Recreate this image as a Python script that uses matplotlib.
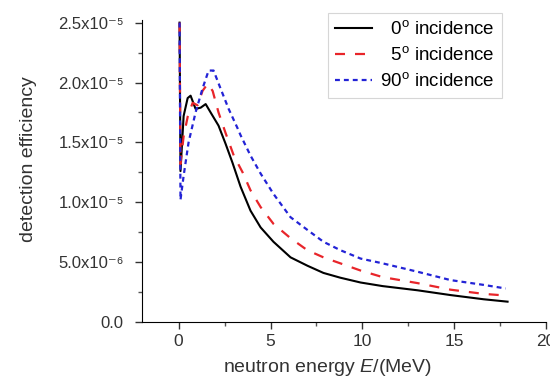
import matplotlib
matplotlib.use("Agg")
import matplotlib.pyplot as plt
import numpy as np
from matplotlib.ticker import MultipleLocator, FuncFormatter

# Data (efficiency in units of 1e-5)
e_0deg = [0.05, 0.1, 0.27, 0.49, 0.65, 0.92, 1.2, 1.47, 1.74, 2.17, 2.55, 2.93,
          3.37, 3.91, 4.46, 5.16, 6.09, 7.01, 7.88, 8.8, 9.9, 11.1, 13.0, 14.8, 16.6, 17.9]
eff_0deg = [2.5, 1.26, 1.72, 1.87, 1.89, 1.78, 1.79, 1.82, 1.75, 1.64, 1.49, 1.33,
            1.13, 0.93, 0.79, 0.67, 0.54, 0.47, 0.41, 0.37, 0.33, 0.30, 0.265, 0.225, 0.19, 0.17]

e_5deg = [0.05, 0.1, 0.27, 0.5, 0.76, 1.03, 1.3, 1.58, 1.85, 2.17, 2.55, 3.0,
          3.48, 3.91, 4.46, 5.16, 6.09, 7.0, 7.88, 8.8, 9.9, 11.1, 13.0, 14.8, 16.6, 17.9]
eff_5deg = [2.5, 1.32, 1.55, 1.72, 1.83, 1.81, 1.93, 1.99, 1.93, 1.75, 1.58, 1.39,
            1.25, 1.10, 0.96, 0.82, 0.70, 0.60, 0.54, 0.49, 0.43, 0.375, 0.325, 0.27, 0.235, 0.22]

e_90deg = [0.05, 0.1, 0.27, 0.54, 0.92, 1.3, 1.63, 1.9, 2.28, 2.72, 3.2, 3.37,
           3.91, 4.46, 5.16, 6.09, 7.0, 7.88, 8.8, 9.9, 11.1, 13.0, 14.8, 16.6, 17.8]
eff_90deg = [2.5, 1.02, 1.22, 1.5, 1.75, 1.95, 2.1, 2.1, 1.95, 1.78, 1.62, 1.56,
             1.39, 1.24, 1.07, 0.875, 0.77, 0.67, 0.60, 0.53, 0.49, 0.42, 0.35, 0.31, 0.28]

labels = ["  0$^{\\rm o}$ incidence", "  5$^{\\rm o}$ incidence", "90$^{\\rm o}$ incidence"]

plt.rcParams['font.family'] = ['Liberation Sans', 'DejaVu Sans']
plt.rcParams['mathtext.fontset'] = 'custom'
plt.rcParams['mathtext.rm'] = 'Liberation Sans'
plt.rcParams['mathtext.it'] = 'Liberation Sans:italic'

fig = plt.figure(figsize=(5.5, 3.82), dpi=100)
ax = fig.add_axes([0.258, 0.157, 0.735, 0.79])

ax.plot(e_0deg, np.array(eff_0deg) * 1e-5, color='black', lw=1.5, label=labels[0])
ax.plot(e_5deg, np.array(eff_5deg) * 1e-5, color='#e8252a', lw=1.6,
        dashes=(4.5, 4.5), label=labels[1])
ax.plot(e_90deg, np.array(eff_90deg) * 1e-5, color='#2323d6', lw=1.6,
        dashes=(2.2, 1.8), label=labels[2])

ax.set_xlim(-2, 20)
ax.set_ylim(0, 2.52e-5)

def sci_fmt(v, pos):
    if abs(v) < 1e-12:
        return "0.0"
    exp = int(np.floor(np.log10(abs(v)) + 1e-9))
    mant = v / 10**exp
    sup = str(exp).translate(str.maketrans("-0123456789", "⁻⁰¹²³⁴⁵⁶⁷⁸⁹"))
    return "%.1fx10%s" % (mant, sup)

ax.xaxis.set_major_locator(MultipleLocator(5))
ax.xaxis.set_minor_locator(MultipleLocator(2.5))
ax.yaxis.set_major_locator(MultipleLocator(0.5e-5))
ax.yaxis.set_minor_locator(MultipleLocator(0.25e-5))
ax.yaxis.set_major_formatter(FuncFormatter(sci_fmt))

for s in ['top', 'right']:
    ax.spines[s].set_visible(False)
ax.tick_params(which='major', direction='out', length=5, width=1, colors='#333333',
               labelcolor='#333333', labelsize=12.5)
ax.tick_params(axis='y', which='major', pad=8, labelsize=12)
ax.tick_params(which='minor', direction='out', length=3, width=1, colors='#555555')

ax.set_xlabel("neutron energy $\\mathit{E}$/(MeV)", color='#333333', fontsize=14)
ax.set_ylabel("detection efficiency", color='#333333', fontsize=14)
ax.xaxis.set_label_coords(0.458, -0.116)
ax.yaxis.set_label_coords(-0.26, 0.54)

leg = fig.legend(loc='upper right', bbox_to_anchor=(502/550, 1 - 13/382),
                 frameon=True, fancybox=False, edgecolor='#cccccc', fontsize=13.5,
                 handlelength=1.95, labelspacing=0.42, borderpad=0.4,
                 handletextpad=0.45, borderaxespad=0)
leg.get_frame().set_linewidth(0.8)

fig.savefig("out.png", dpi=100)
